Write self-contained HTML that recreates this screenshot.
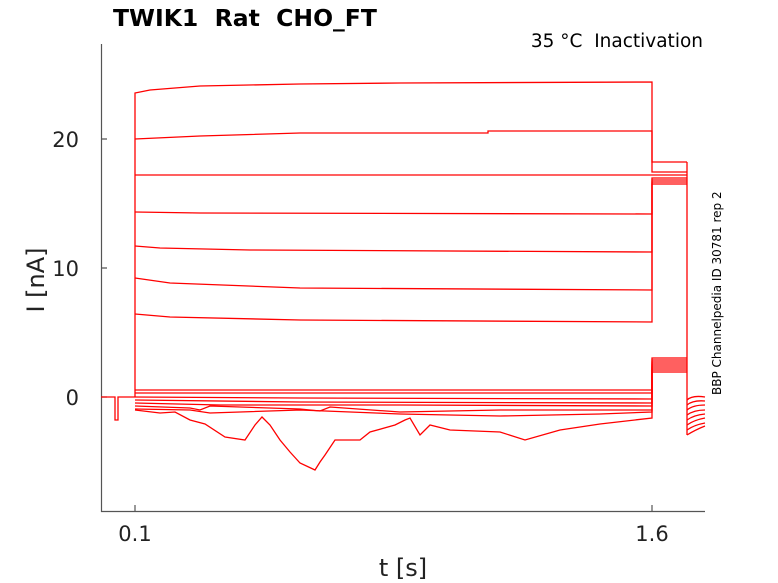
<!DOCTYPE html><html><head><style>body{margin:0;background:#fff}svg{display:block}text{font-family:"DejaVu Sans","Liberation Sans",sans-serif;white-space:pre}</style></head><body>
<svg width="778" height="583" viewBox="0 0 778 583">
<text x="113" y="26" font-size="23.5" font-weight="bold" xml:space="preserve">TWIK1  Rat  CHO_FT</text>
<text x="703" y="47" font-size="18.5" text-anchor="end" xml:space="preserve">35 °C  Inactivation</text>
<g stroke="#555" stroke-width="1.2" fill="none">
<path d="M101.5 44V511.5H705"/>
<path d="M101 397h6M101 268h6M101 139h6M135 511v-6M652 511v-6"/>
</g>
<g font-size="21" fill="#222" text-anchor="end">
<text x="79" y="405">0</text><text x="79" y="276">10</text><text x="79" y="147">20</text>
</g>
<g font-size="21" fill="#222" text-anchor="middle">
<text x="135" y="541">0.1</text><text x="652" y="541">1.6</text>
<text x="403" y="576" font-size="24">t [s]</text>
<text transform="translate(44,280) rotate(-90)" font-size="24">I [nA]</text>
</g>
<text transform="translate(721,395) rotate(-90)" font-size="12">BBP Channelpedia ID 30781 rep 2</text>
<g stroke="#f00" stroke-width="1.3" fill="none">
<path d="M101 397H115V420H118V397H135"/>
<path d="M135 397V93L150 90 200 86 300 84 400 83 652 82V162H687"/>
<path d="M135 139L200 136 300 133 488 133V131H652V172H687"/>
<path d="M135 175H652V175H687"/>
<path d="M135 212L200 213 652 214V178H687"/>
<path d="M135 246L160 248 250 250 652 252V180H687"/>
<path d="M135 278L170 283 300 288 652 290V182H687"/>
<path d="M135 314L170 317 300 320 652 322V184H687"/>
<path d="M135 390H652V358H687"/>
<path d="M135 393H652V360H687"/>
<path d="M135 397L300 398 652 399V362H687"/>
<path d="M135 400L300 402 652 403V364H687"/>
<path d="M135 403L220 405 400 405 652 406V366H687"/>
<path d="M135 406L190 408 200 410 210 406 300 409 320 411 330 407 400 412 500 410 652 410V368H687"/>
<path d="M135 409L190 410 210 413 300 410 400 414 500 416 600 414 652 412V370H687"/>
<path d="M135 410L160 413 175 412 190 420 205 424 225 437 245 440 255 425 262 417 270 425 280 440 290 452 300 463 315 470 320 462 325 455 335 440 360 440 370 432 395 425 405 420 410 418 420 435 430 425 450 430 500 432 525 440 560 430 600 424 652 418V372H687"/>
<path d="M687 162V435"/>
<path d="M687 400Q692 395 705 397M687 405Q693 400 705 401M687 410Q693 405 705 405M687 415Q694 410 705 410M687 420Q694 415 705 414M687 425Q694 420 705 418M687 430Q694 425 705 423M687 435Q695 430 705 426"/>
</g>
</svg></body></html>
